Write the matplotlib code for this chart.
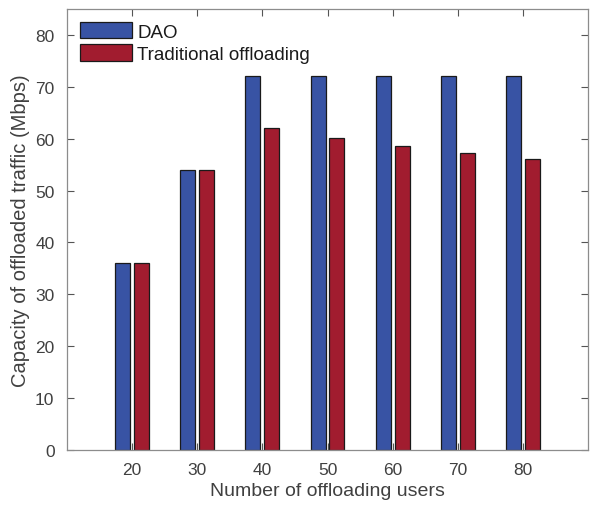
import numpy as np
import matplotlib.pyplot as plt

plt.rcParams['font.family'] = ['Liberation Sans', 'DejaVu Sans']

users = [20, 30, 40, 50, 60, 70, 80]
dao = [36, 54, 72, 72, 72, 72, 72]
traditional = [36, 54, 62, 60.1, 58.6, 57.2, 56.1]

fig = plt.figure(figsize=(5.9, 5.06), dpi=100)
ax = fig.add_axes([67 / 590, 1 - 451 / 506, 521 / 590, 441 / 506])

x = np.array(users)
w = 2.3
ax.bar(x - 1.45, dao, w, color='#3853a4', edgecolor='#1a1a1a', linewidth=0.9, label='DAO')
ax.bar(x + 1.45, traditional, w, color='#a11c2f', edgecolor='#1a1a1a', linewidth=0.9,
       label='Traditional offloading')

ax.set_xlim(10, 90)
ax.set_ylim(0, 85)
ax.set_xticks(users)
ax.set_yticks(range(0, 90, 10))

gray = '#404040'
for s in ax.spines.values():
    s.set_color('#8c8c8c')
    s.set_linewidth(0.9)
ax.tick_params(direction='in', top=True, right=True, length=5, width=0.8,
               color='#555555', labelcolor=gray, labelsize=12.5, pad=9)
ax.set_xlabel('Number of offloading users', fontsize=14, color=gray, labelpad=3)
ax.set_ylabel('Capacity of offloaded traffic (Mbps)', fontsize=14.5, color=gray, labelpad=4)

leg = ax.legend(loc='upper left', frameon=False, fontsize=13.5, handlelength=2.75,
                handleheight=0.95, handletextpad=0.3, labelspacing=0.2,
                borderaxespad=0.3, bbox_to_anchor=(0.0, 1.0))
for t in leg.get_texts():
    t.set_color('#1a1a1a')

fig.savefig('out.png', dpi=100)
